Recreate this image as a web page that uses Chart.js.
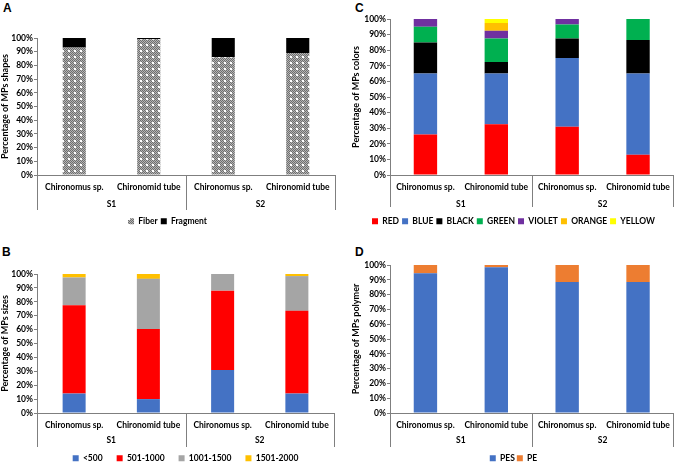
<!DOCTYPE html>
<html>
<head>
<meta charset="utf-8">
<script src="https://cdn.jsdelivr.net/npm/chart.js@4.4.1/dist/chart.umd.min.js"></script>
<style>
  body { margin: 0; background: #fff; width: 677px; height: 463px; position: relative; overflow: hidden; }
  .panel { position: absolute; }
  .tag { position: absolute; font: bold 12px "Liberation Sans", Arial, sans-serif; color: #000; }
</style>
</head>
<body>
<div class="tag" style="left:3px;top:1px">A</div>
<div class="tag" style="left:355px;top:1px">C</div>
<div class="tag" style="left:2px;top:245px">B</div>
<div class="tag" style="left:355px;top:245px">D</div>
<div class="panel" style="left:0;top:0;width:338px;height:230px"><canvas id="chartA"></canvas></div>
<div class="panel" style="left:338px;top:0;width:339px;height:230px"><canvas id="chartC"></canvas></div>
<div class="panel" style="left:0;top:230px;width:338px;height:233px"><canvas id="chartB"></canvas></div>
<div class="panel" style="left:338px;top:230px;width:339px;height:233px"><canvas id="chartD"></canvas></div>
<script>
// categories and groups
const categories = ["Chironomus sp.", "Chironomid tube", "Chironomus sp.", "Chironomid tube"];
const sites = ["S1", "S2"];

// A - shapes (%)
const fiber = [93, 99, 86, 89];
const fragment = [7, 1, 14, 11];

// B - sizes (%)
const sizeUnder500 = [14, 10, 31, 14];
const size501to1000 = [63.5, 50.5, 57, 59.5];
const size1001to1500 = [20, 36, 12, 25];
const size1501to2000 = [2.5, 3.5, 0, 1.5];

// C - colors (%)
const red = [26, 32.5, 31, 13];
const blue = [39, 32.5, 44, 52];
const black = [20, 7.5, 12.5, 21.5];
const green = [10, 15, 9, 13.5];
const violet = [5, 5, 3.5, 0];
const orange = [0, 5, 0, 0];
const yellow = [0, 2.5, 0, 0];

// D - polymer (%)
const pes = [94.5, 98.5, 88.5, 88.5];
const pe = [5.5, 1.5, 11.5, 11.5];

const FONT = "Lato, 'Open Sans', sans-serif";
const AXIS = "#7f7f7f";

function fiberPattern() {
  const c = document.createElement("canvas");
  c.width = 6; c.height = 6;
  const g = c.getContext("2d");
  g.fillStyle = "#6e6e6e";
  g.fillRect(0, 0, 6, 6);
  g.fillStyle = "#b5b5b5";
  for (let i = 0; i < 6; i++) {
    for (let j = 0; j < 6; j++) {
      if ((i + j) % 2) g.fillRect(i, j, 1, 1);
    }
  }
  g.fillStyle = "#ffffff";
  g.fillRect(2, 2, 2, 2);
  return g.createPattern(c, "repeat");
}

// outer grouping row (S1 / S2) under the category labels
const groupAxis = {
  id: "groupAxis",
  afterDraw(chart, args, opts) {
    const x = chart.scales.x;
    const ctx = chart.ctx;
    const top = chart.chartArea.bottom;
    const bottom = top + opts.depth;
    const mid = (x.getPixelForValue(1) + x.getPixelForValue(2)) / 2;
    ctx.save();
    ctx.strokeStyle = AXIS;
    ctx.lineWidth = 1;
    [x.left, mid, x.right].forEach((px) => {
      const p = Math.round(px) + 0.5;
      ctx.beginPath();
      ctx.moveTo(p, top);
      ctx.lineTo(p, bottom);
      ctx.stroke();
    });
    ctx.fillStyle = "#000";
    ctx.font = "bold 8.5px " + FONT;
    ctx.textAlign = "center";
    ctx.textBaseline = "middle";
    sites.forEach((s, i) => {
      const cx = (x.getPixelForValue(i * 2) + x.getPixelForValue(i * 2 + 1)) / 2;
      ctx.fillText(s, cx, top + opts.labelOffset);
    });
    ctx.restore();
  }
};

function makePanel(id, datasets, yTitle, cfg) {
  return new Chart(document.getElementById(id), {
    type: "bar",
    data: { labels: categories, datasets: datasets },
    plugins: [groupAxis],
    options: {
      responsive: true,
      maintainAspectRatio: false,
      animation: false,
      layout: { padding: cfg.padding },
      datasets: { bar: { barPercentage: cfg.barPct, categoryPercentage: 1 } },
      scales: {
        x: {
          stacked: true,
          grid: { display: false, drawTicks: false },
          border: { display: true, color: AXIS },
          ticks: { color: "#000", font: { family: FONT, size: 8.5, weight: "bold" }, padding: 7, maxRotation: 0, autoSkip: false },
          afterFit: (s) => { s.height = cfg.xHeight; }
        },
        y: {
          stacked: true,
          min: 0,
          max: 100,
          grid: { drawOnChartArea: false, drawTicks: true, tickLength: 3, color: AXIS },
          border: { display: true, color: AXIS },
          ticks: {
            stepSize: 10,
            color: "#000",
            padding: 1,
            font: { family: FONT, size: 8.5, weight: "bold" },
            callback: (v) => v + "%"
          },
          title: { display: true, text: yTitle, color: "#000", font: { family: FONT, size: 9, weight: "bold" }, padding: 0 },
          afterFit: (s) => { s.width = cfg.yWidth; }
        }
      },
      plugins: {
        groupAxis: { depth: cfg.lineDepth, labelOffset: cfg.groupOffset },
        tooltip: { enabled: false },
        legend: {
          position: "bottom",
          fullSize: cfg.legendFull,
          labels: {
            color: "#000",
            boxWidth: 6,
            boxHeight: 6,
            padding: cfg.legendPad,
            font: { family: FONT, size: 8.5, weight: "bold" }
          }
        }
      }
    }
  });
}

makePanel("chartA", [
  { label: "Fiber", data: fiber, backgroundColor: fiberPattern() },
  { label: "Fragment", data: fragment, backgroundColor: "#000000" }
], "Percentage of MPs shapes", {
  padding: { top: 38, right: 3, left: 0, bottom: -5.5 }, yWidth: 37, xHeight: 39, lineDepth: 35,
  groupOffset: 29, barPct: 0.31, legendPad: 3, legendFull: true
});

makePanel("chartC", [
  { label: "RED", data: red, backgroundColor: "#FF0000" },
  { label: "BLUE", data: blue, backgroundColor: "#4472C4" },
  { label: "BLACK", data: black, backgroundColor: "#000000" },
  { label: "GREEN", data: green, backgroundColor: "#00B050" },
  { label: "VIOLET", data: violet, backgroundColor: "#7030A0" },
  { label: "ORANGE", data: orange, backgroundColor: "#FFC000" },
  { label: "YELLOW", data: yellow, backgroundColor: "#FFFF00" }
], "Percentage of MPs colors", {
  padding: { top: 19, right: 1, left: 13, bottom: -5.5 }, yWidth: 39, xHeight: 39, lineDepth: 32,
  groupOffset: 29, barPct: 0.33, legendPad: 3, legendFull: true
});

makePanel("chartB", [
  { label: "<500", data: sizeUnder500, backgroundColor: "#4472C4" },
  { label: "501-1000", data: size501to1000, backgroundColor: "#FF0000" },
  { label: "1001-1500", data: size1001to1500, backgroundColor: "#A5A5A5" },
  { label: "1501-2000", data: size1501to2000, backgroundColor: "#FFC000" }
], "Percentage of MPs sizes", {
  padding: { top: 44, right: 4, left: 0, bottom: -9.5 }, yWidth: 37, xHeight: 27, lineDepth: 34,
  groupOffset: 27, barPct: 0.31, legendPad: 14, legendFull: false
});

makePanel("chartD", [
  { label: "PES", data: pes, backgroundColor: "#4472C4" },
  { label: "PE", data: pe, backgroundColor: "#ED7D31" }
], "Percentage of MPs polymer", {
  padding: { top: 35, right: 1, left: 13, bottom: -9.5 }, yWidth: 39, xHeight: 39, lineDepth: 34,
  groupOffset: 27, barPct: 0.33, legendPad: 2, legendFull: true
});
</script>
</body>
</html>
